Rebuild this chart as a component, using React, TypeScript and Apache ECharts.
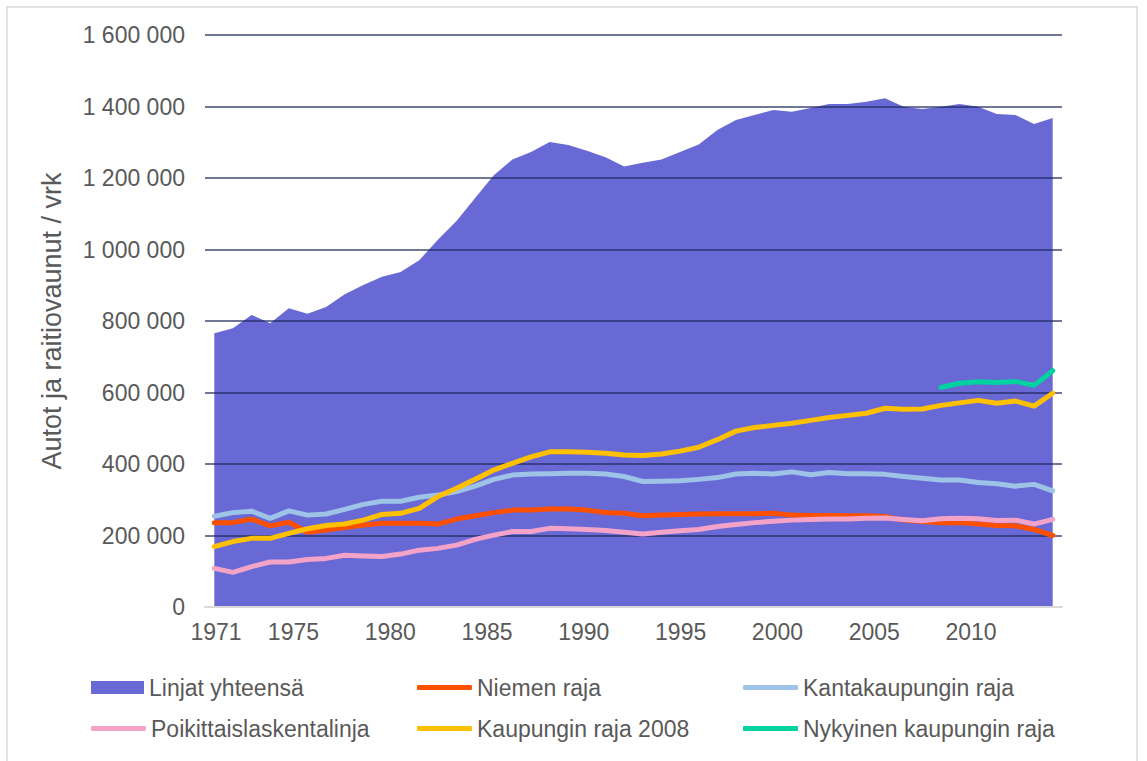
import React, { useEffect, useRef } from "react";
import * as echarts from "echarts";

const years = [
  "1971", "1972", "1973", "1974", "1975", "1976", "1977", "1978", "1979", "1980",
  "1981", "1982", "1983", "1984", "1985", "1986", "1987", "1988", "1989", "1990",
  "1991", "1992", "1993", "1994", "1995", "1996", "1997", "1998", "1999", "2000",
  "2001", "2002", "2003", "2004", "2005", "2006", "2007", "2008", "2009", "2010",
  "2011", "2012", "2013", "2014", "2015", "2016",
];

const xTickLabels = [1971, 1975, 1980, 1985, 1990, 1995, 2000, 2005, 2010];

const linjatYhteensa = [
  766000, 780000, 817000, 794000, 836000, 820000, 839000, 875000, 901000, 924000,
  937000, 970000, 1027000, 1080000, 1144000, 1208000, 1252000, 1273000, 1301000, 1292000,
  1276000, 1258000, 1232000, 1243000, 1252000, 1273000, 1294000, 1334000, 1362000, 1376000,
  1390000, 1385000, 1396000, 1407000, 1407000, 1413000, 1423000, 1399000, 1393000, 1399000,
  1407000, 1399000, 1379000, 1376000, 1351000, 1368000,
];

const niemenRaja = [
  236000, 236000, 246000, 227000, 237000, 209000, 215000, 222000, 229000, 234000,
  234000, 234000, 232000, 246000, 255000, 264000, 271000, 271000, 274000, 274000,
  271000, 264000, 262000, 255000, 257000, 259000, 260000, 261000, 261000, 261000,
  262000, 257000, 256000, 256000, 255000, 255000, 253000, 243000, 239000, 236000,
  236000, 232000, 228000, 227000, 217000, 200000,
];

const kantakaupunginRaja = [
  254000, 264000, 268000, 248000, 269000, 257000, 260000, 273000, 287000, 296000,
  296000, 307000, 313000, 323000, 338000, 357000, 369000, 372000, 373000, 374000,
  374000, 372000, 365000, 351000, 352000, 353000, 357000, 362000, 372000, 374000,
  372000, 378000, 370000, 376000, 373000, 373000, 371000, 365000, 360000, 355000,
  355000, 348000, 345000, 338000, 343000, 325000,
];

const poikittaislaskentalinja = [
  108000, 97000, 113000, 126000, 126000, 133000, 136000, 145000, 143000, 141000,
  148000, 159000, 164000, 173000, 189000, 201000, 211000, 211000, 220000, 219000,
  217000, 214000, 209000, 204000, 209000, 213000, 217000, 225000, 231000, 236000,
  240000, 243000, 245000, 246000, 246000, 248000, 249000, 245000, 241000, 247000,
  248000, 247000, 242000, 243000, 232000, 245000,
];

const kaupunginRaja2008 = [
  169000, 183000, 192000, 192000, 206000, 219000, 228000, 232000, 243000, 259000,
  262000, 276000, 309000, 332000, 357000, 383000, 402000, 420000, 434000, 434000,
  433000, 430000, 425000, 424000, 428000, 436000, 447000, 468000, 492000, 502000,
  508000, 514000, 522000, 530000, 536000, 542000, 556000, 553000, 554000, 564000,
  571000, 578000, 570000, 576000, 562000, 598000,
];

const nykyinenKaupunginRaja = [
  null, null, null, null, null, null, null, null, null, null,
  null, null, null, null, null, null, null, null, null, null,
  null, null, null, null, null, null, null, null, null, null,
  null, null, null, null, null, null, null, null, null, 614000,
  626000, 630000, 628000, 631000, 620000, 661000,
];

const FONT = "'Liberation Sans', Arial, sans-serif";
const TEXT = "#595959";

function fmt(v: number) {
  return String(v).replace(/\B(?=(\d{3})+(?!\d))/g, " ");
}

export default function App() {
  const ref = useRef<HTMLDivElement>(null);

  useEffect(() => {
    if (!ref.current) return;
    const chart = echarts.init(ref.current, undefined, { renderer: "svg" });

    const lineSeries = (name: string, data: (number | null)[], color: string) => ({
      name,
      type: "line",
      data,
      symbol: "none",
      z: 3,
      color,
      itemStyle: { color },
      lineStyle: { width: 5, color, cap: "round", join: "round" },
    });

    const legendItem = (name: string, left: number, top: number, isArea = false) => ({
      orient: "horizontal",
      left,
      top,
      itemWidth: isArea ? 53 : 55,
      itemHeight: isArea ? 13 : 5,
      icon: isArea ? "rect" : "roundRect",
      textStyle: { fontSize: 23, color: TEXT, fontFamily: FONT },
      selectedMode: false,
      data: [name],
    });

    chart.setOption({
      animation: false,
      textStyle: { fontFamily: FONT },
      grid: { left: 205, right: 85, top: 35, bottom: 154 },
      graphic: [
        {
          type: "rect",
          shape: { x: 7, y: 7, width: 1130, height: 765 },
          style: { fill: "none", stroke: "#d9d9d9", lineWidth: 1.5 },
          silent: true,
        },
      ],
      legend: [
        legendItem("Linjat yhteensä", 86, 671, true),
        legendItem("Niemen raja", 412, 671),
        legendItem("Kantakaupungin raja", 738, 671),
        legendItem("Poikittaislaskentalinja", 86, 712),
        legendItem("Kaupungin raja 2008", 412, 712),
        legendItem("Nykyinen kaupungin raja", 738, 712),
      ],
      xAxis: [
        {
          type: "category",
          data: years,
          boundaryGap: true,
          z: 2,
          axisLine: { show: true, lineStyle: { color: "#d9d9d9", width: 2 } },
          axisTick: { show: false },
          axisLabel: { show: false },
          splitLine: { show: false },
        },
        {
          type: "value",
          position: "bottom",
          min: 1970.432,
          max: 2014.7,
          axisLine: { show: false },
          axisTick: { show: false },
          splitLine: { show: false },
          axisLabel: {
            show: true,
            customValues: xTickLabels,
            formatter: (v: number) => String(Math.round(v)),
            fontSize: 23,
            color: TEXT,
            fontFamily: FONT,
            margin: 13,
          },
        },
      ],
      yAxis: {
        type: "value",
        min: 0,
        max: 1600000,
        interval: 200000,
        z: 2,
        name: "Autot ja raitiovaunut / vrk",
        nameLocation: "middle",
        nameGap: 140,
        nameTextStyle: { fontSize: 27, color: TEXT, fontFamily: FONT },
        axisLine: { show: false },
        axisTick: { show: false },
        axisLabel: {
          fontSize: 23,
          color: TEXT,
          fontFamily: FONT,
          margin: 20,
          formatter: (v: number) => fmt(v),
        },
        splitLine: { show: true, lineStyle: { color: "rgba(30,40,90,0.85)", width: 1.5 } },
      },
      series: [
        {
          name: "Linjat yhteensä",
          type: "line",
          data: linjatYhteensa,
          symbol: "none",
          z: 1,
          color: "#6969d6",
          itemStyle: { color: "#6969d6" },
          lineStyle: { width: 0, color: "#6969d6" },
          areaStyle: { color: "#6969d6", opacity: 1 },
        },
        lineSeries("Niemen raja", niemenRaja, "#ff5000"),
        lineSeries("Kantakaupungin raja", kantakaupunginRaja, "#9dc3e6"),
        lineSeries("Poikittaislaskentalinja", poikittaislaskentalinja, "#f4a3c8"),
        lineSeries("Kaupungin raja 2008", kaupunginRaja2008, "#ffc000"),
        lineSeries("Nykyinen kaupungin raja", nykyinenKaupunginRaja, "#00d2a0"),
      ],
    });

    return () => chart.dispose();
  }, []);

  return (
    <div
      ref={ref}
      style={{ position: "absolute", left: 0, top: 0, width: 1147, height: 761, background: "#ffffff" }}
    />
  );
}
